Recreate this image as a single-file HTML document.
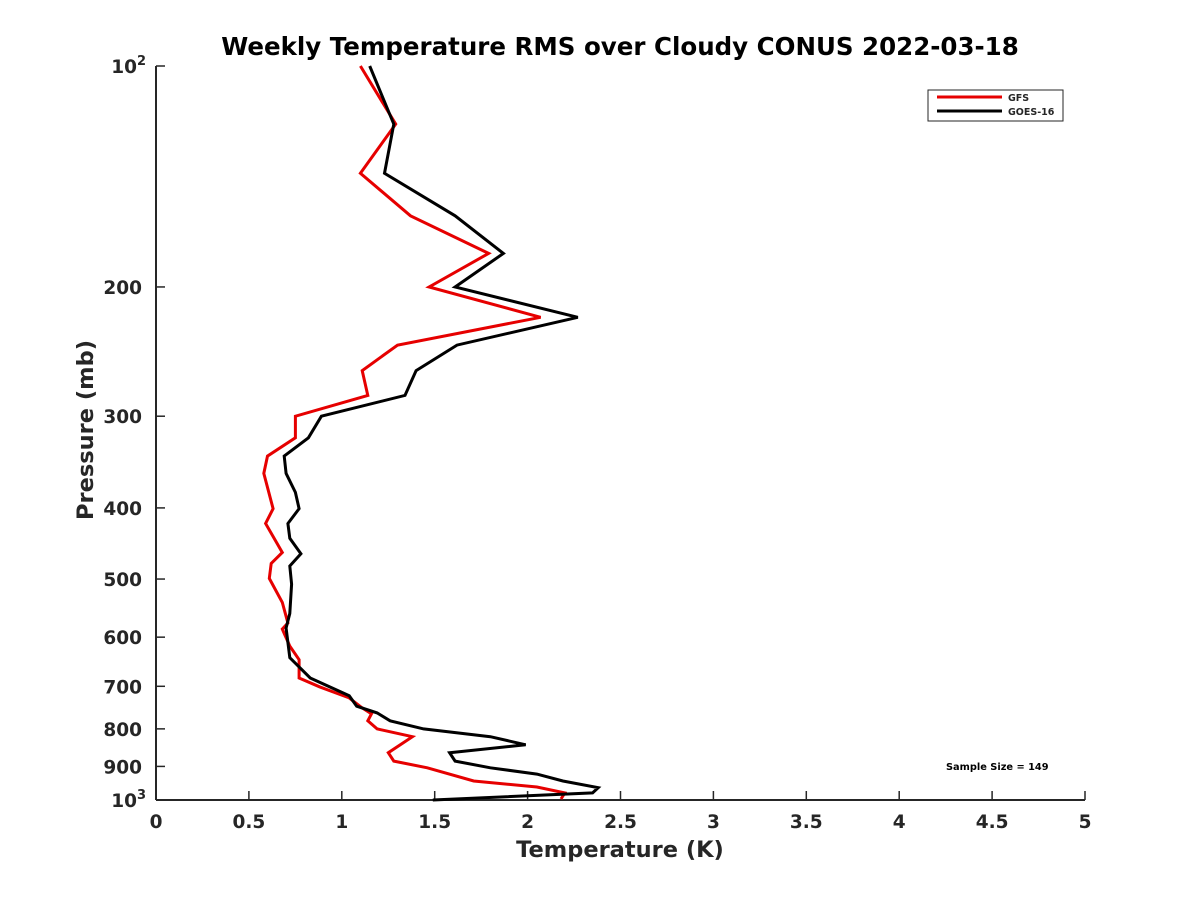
<!DOCTYPE html>
<html><head><meta charset="utf-8"><style>
html,body{margin:0;padding:0;background:#fff;}
svg text{font-family:"DejaVu Sans","Liberation Sans",sans-serif;font-weight:bold;fill:#262626;}
</style></head><body>
<svg id="chart" width="1200" height="900" xmlns="http://www.w3.org/2000/svg">
<rect width="1200" height="900" fill="#fff"/>
<text x="620" y="55" text-anchor="middle" font-size="24.5" style="fill:#000">Weekly Temperature RMS over Cloudy CONUS 2022-03-18</text>
<g id="axes"></g>
<g id="series"></g>
<text x="620" y="857" text-anchor="middle" font-size="22.5">Temperature (K)</text>
<text transform="translate(93,430) rotate(-90)" text-anchor="middle" font-size="22.5">Pressure (mb)</text>
<g>
<rect x="928" y="90" width="135" height="31" fill="#fff" stroke="#262626" stroke-width="1"/>
<line x1="937" y1="97" x2="1002" y2="97" stroke="#e60000" stroke-width="3"/>
<text x="1008" y="101" font-size="9.5">GFS</text>
<line x1="937" y1="111" x2="1002" y2="111" stroke="#000" stroke-width="3"/>
<text x="1008" y="115" font-size="9.5">GOES-16</text>
</g>
<text x="946" y="770" font-size="9.8" style="fill:#000">Sample Size = 149</text>
</svg>
<script>
const gfsTemp = [1.10,1.29,1.10,1.37,1.79,1.47,2.07,1.30,1.11,1.14,0.75,0.75,0.60,0.58,0.63,0.59,0.68,0.62,0.61,0.68,0.71,0.68,0.72,0.77,0.77,0.88,1.04,1.11,1.16,1.14,1.19,1.38,1.25,1.28,1.46,1.71,2.05,2.20,2.18];
const gfsPres = [100,120,140,160,180,200,220,240,260,281,300,321,340,359,401,420,460,476,499,538,574,585,617,644,682,701,726,749,763,780,800,820,862,885,904,942,960,978,997];
const goesTemp = [1.15,1.28,1.23,1.61,1.87,1.61,2.27,1.62,1.40,1.34,0.89,0.82,0.69,0.70,0.75,0.77,0.71,0.72,0.78,0.72,0.73,0.72,0.70,0.72,0.83,1.04,1.08,1.19,1.26,1.44,1.80,1.99,1.58,1.61,1.80,2.05,2.19,2.38,2.35,1.49];
const goesPres = [100,120,140,160,180,200,220,240,260,281,300,321,340,359,381,401,420,440,462,480,508,557,583,640,682,721,745,761,780,800,820,841,862,885,904,922,942,962,978,1000];
const xTicks = [0,0.5,1,1.5,2,2.5,3,3.5,4,4.5,5];
const yTicks = [100,200,300,400,500,600,700,800,900,1000];
const yTickLabels = ["10²","200","300","400","500","600","700","800","900","10³"];

const X0=156,X1=1085,Y0=66,Y1=800;
const xs=t=>X0+(t/5)*(X1-X0);
const ys=p=>Y0+(Math.log10(p)-2)*(Y1-Y0);
const NS="http://www.w3.org/2000/svg";
const axes=document.getElementById('axes');
function mk(tag,attrs,parent){const e=document.createElementNS(NS,tag);for(const k in attrs)e.setAttribute(k,attrs[k]);parent.appendChild(e);return e;}
const xl=mk('line',{x1:X0,y1:Y1,x2:X1,y2:Y1,stroke:'#262626','stroke-width':2},axes);


const yl=mk('line',{x1:X0,y1:Y0,x2:X0,y2:Y1,stroke:'#262626','stroke-width':2},axes);


xTicks.forEach(t=>{
  const x=xs(t);
  mk('line',{x1:x,y1:Y1,x2:x,y2:Y1-9,stroke:'#262626','stroke-width':1.5},axes);
  const tx=mk('text',{x:x,y:Y1+28,'text-anchor':'middle','font-size':18.5},axes);
  tx.textContent=String(t);
  
  
});
yTicks.forEach((p,i)=>{
  const y=ys(p);
  mk('line',{x1:X0,y1:y,x2:X0+9,y2:y,stroke:'#262626','stroke-width':1.5},axes);
  const lab=yTickLabels[i];
  const tx=mk('text',{x:X0-14,y:y+7,'text-anchor':'end','font-size':18.5},axes);
  if(lab.length===3 && (lab[2]==='²'||lab[2]==='³')){
    tx.textContent='10';
    const sp=mk('tspan',{dy:-8,'font-size':13},tx);
    sp.textContent=lab[2]==='²'?'2':'3';
    tx.setAttribute('x',X0-10);
  } else tx.textContent=lab;
  
  
});
const ser=document.getElementById('series');
function draw(T,P,color,name){
  const pts=T.map((t,i)=>xs(t).toFixed(1)+','+ys(P[i]).toFixed(1)).join(' ');
  const pl=mk('polyline',{points:pts,fill:'none',stroke:color,'stroke-width':3,'stroke-linejoin':'miter'},ser);
  
  
}
draw(gfsTemp,gfsPres,'#e60000','gfs-line');
draw(goesTemp,goesPres,'#000000','goes16-line');
</script>
</body></html>
